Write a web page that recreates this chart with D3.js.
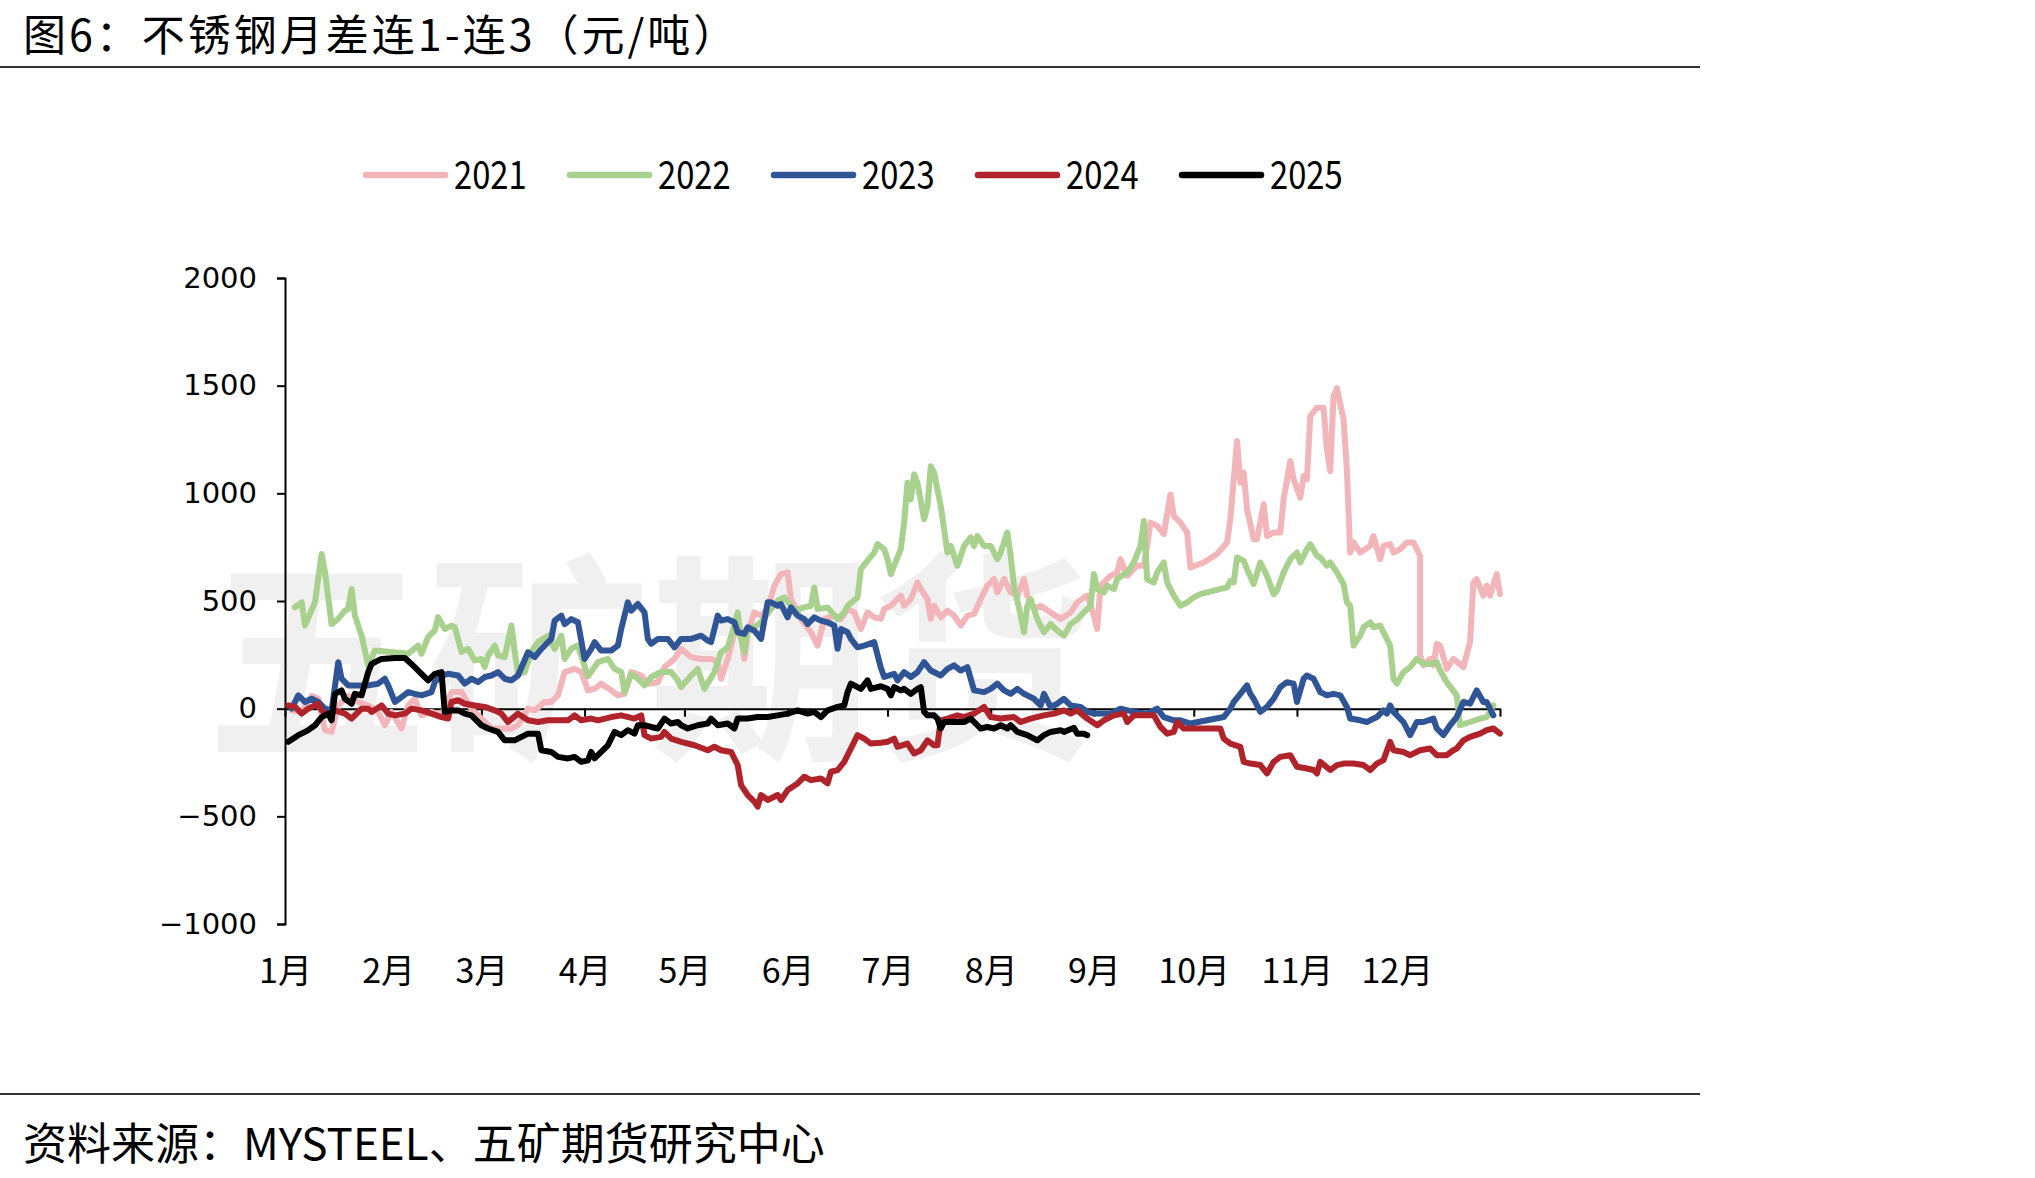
<!DOCTYPE html>
<html>
<head>
<meta charset="utf-8">
<script src="https://cdn.jsdelivr.net/npm/d3@7"></script>
<style>
  body { margin: 0; background: #fff; }
  svg { display: block; }
</style>
</head>
<body>
<svg id="chart"></svg>
<script>

/* DATA */
// each point is [day of year, spread in 元/吨]

const s2021 = [[2,-8],[5,-15],[8,60],[10,46],[12,-100],[14,-108],[16,15],[19,60],[22,31],[25,15],[28,-15],[30,-77],[32,-15],[35,-92],[37,15],[39,46],[41,-31],[44,-15],[47,-31],[50,77],[53,77],[56,0],[59,-46],[62,-92],[65,-92],[68,-92],[70,-77],[73,0],[75,-8],[78,31],[80,31],[82,62],[84,170],[87,185],[89,170],[91,85],[93,92],[95,116],[98,85],[100,62],[102,69],[104,170],[107,154],[109,116],[112,123],[114,193],[117,231],[119,278],[122,239],[125,231],[128,231],[130,216],[131,139],[133,231],[135,355],[137,339],[138,231],[139,355],[141,447],[143,432],[145,463],[147,571],[149,625],[151,633],[152,509],[155,416],[158,355],[160,293],[162,416],[165,432],[167,416],[169,463],[171,447],[173,370],[175,447],[177,424],[179,417],[180,463],[182,478],[183,494],[185,525],[186,478],[188,509],[190,586],[191,555],[193,509],[194,417],[195,478],[197,424],[199,455],[201,432],[203,386],[205,432],[207,440],[209,509],[211,571],[213,602],[214,540],[216,602],[218,540],[220,525],[222,602],[223,525],[225,463],[227,478],[230,447],[233,417],[236,447],[238,494],[241,525],[243,432],[244,370],[245,571],[248,617],[250,633],[251,694],[253,617],[256,664],[258,664],[259,756],[260,864],[262,849],[264,810],[266,995],[267,895],[269,864],[271,818],[272,656],[276,679],[280,718],[283,772],[284,880],[286,1243],[287,1049],[288,1096],[289,926],[291,787],[292,787],[294,949],[295,802],[297,818],[299,818],[300,972],[302,1150],[303,1065],[305,980],[306,1080],[307,1065],[308,1358],[310,1397],[312,1397],[313,1204],[314,1103],[315,1451],[316,1489],[318,1343],[319,1111],[320,725],[321,772],[323,725],[326,756],[327,802],[329,694],[330,756],[332,764],[333,725],[335,741],[337,772],[339,772],[341,710],[341,247],[342,201],[344,231],[345,201],[346,301],[347,293],[349,185],[351,231],[354,193],[356,309],[357,586],[358,602],[360,525],[361,571],[362,525],[364,625],[365,532]];

const s2022 = [[3,471],[5,494],[6,386],[9,494],[11,718],[12,634],[14,393],[16,417],[18,455],[19,463],[20,556],[21,432],[23,339],[25,200],[27,270],[31,264],[37,255],[40,293],[41,255],[43,333],[45,363],[46,425],[48,370],[50,386],[51,378],[53,264],[55,278],[57,224],[59,231],[60,194],[61,247],[63,293],[64,247],[66,240],[68,386],[69,264],[70,162],[72,170],[74,264],[76,309],[79,339],[81,278],[83,339],[84,231],[86,278],[88,293],[91,150],[94,216],[97,231],[99,185],[101,170],[102,77],[104,162],[106,139],[108,108],[110,147],[113,170],[116,170],[118,131],[119,100],[122,154],[124,185],[126,92],[129,170],[131,262],[133,285],[135,386],[136,447],[137,324],[138,262],[139,370],[141,378],[143,401],[146,463],[148,501],[150,517],[152,478],[153,455],[156,470],[158,478],[159,563],[160,463],[163,470],[166,416],[168,447],[169,478],[172,517],[173,648],[175,687],[177,725],[178,764],[180,741],[181,694],[182,625],[183,664],[185,741],[186,864],[187,1049],[188,972],[189,1088],[190,1049],[192,880],[193,941],[194,1126],[195,1096],[197,941],[199,725],[200,756],[202,664],[204,756],[206,795],[207,756],[208,802],[210,756],[212,756],[214,694],[215,725],[217,818],[218,710],[219,571],[221,432],[222,355],[223,478],[224,509],[225,463],[226,416],[228,355],[230,393],[232,362],[234,339],[236,393],[238,416],[240,447],[242,478],[243,625],[244,555],[246,540],[247,571],[249,555],[250,602],[253,633],[255,679],[257,756],[258,872],[259,600],[261,586],[262,633],[264,679],[265,586],[267,525],[269,478],[271,494],[273,517],[275,532],[277,540],[283,563],[284,594],[285,586],[286,702],[288,687],[289,648],[291,579],[293,679],[295,617],[297,532],[298,548],[300,633],[302,694],[304,725],[305,679],[307,741],[308,764],[310,710],[311,702],[313,664],[314,679],[316,633],[318,579],[319,494],[320,478],[321,293],[323,339],[324,378],[326,401],[327,378],[329,386],[332,293],[333,139],[334,116],[336,170],[338,193],[340,231],[342,208],[344,208],[346,216],[347,177],[349,123],[352,62],[353,-77],[356,-62],[359,-46],[361,-39],[362,-15],[363,15]];

const s2023 = [[2,0],[4,62],[6,31],[8,46],[10,31],[12,0],[14,-8],[16,216],[17,139],[19,108],[22,108],[25,108],[28,116],[30,139],[31,108],[33,31],[35,54],[37,77],[39,69],[41,62],[44,77],[45,123],[47,154],[49,162],[52,154],[54,116],[56,139],[58,123],[60,147],[62,154],[64,170],[66,139],[68,131],[70,154],[73,262],[75,239],[77,278],[80,324],[81,409],[83,432],[84,393],[86,416],[88,401],[90,231],[92,278],[93,309],[95,270],[98,270],[100,293],[101,370],[103,494],[104,455],[106,486],[108,447],[109,324],[110,301],[112,324],[115,324],[117,285],[119,324],[122,324],[125,339],[127,316],[128,309],[130,432],[131,409],[133,416],[135,401],[136,355],[138,347],[139,378],[141,362],[143,324],[145,494],[146,494],[148,478],[149,486],[151,424],[152,470],[154,432],[156,416],[157,393],[159,424],[161,409],[163,401],[165,386],[166,278],[167,370],[169,355],[170,324],[172,285],[174,293],[177,309],[179,190],[180,147],[183,162],[184,131],[186,170],[188,147],[190,170],[192,216],[194,177],[197,154],[199,185],[201,201],[203,177],[205,193],[207,85],[210,77],[212,92],[214,116],[216,85],[218,69],[220,92],[222,69],[225,46],[227,15],[228,69],[230,8],[232,23],[234,46],[236,15],[239,8],[241,-15],[243,-23],[245,-23],[248,-23],[251,0],[255,-15],[259,-23],[262,0],[264,-39],[267,-54],[269,-54],[272,-69],[277,-54],[282,-39],[284,0],[285,31],[287,69],[289,108],[290,69],[291,46],[293,-15],[295,8],[297,46],[299,100],[301,123],[303,116],[304,31],[306,139],[307,154],[309,139],[311,77],[313,62],[315,69],[317,62],[319,8],[320,-46],[323,-54],[325,-62],[326,-54],[328,-39],[330,-8],[331,-23],[332,15],[333,-15],[336,-62],[338,-123],[340,-62],[342,-62],[345,-46],[346,-92],[348,-123],[350,-77],[352,-39],[354,31],[356,23],[358,85],[360,31],[361,31],[363,-31]];

const s2024 = [[1,15],[3,8],[5,-23],[7,0],[10,23],[11,-8],[13,-31],[15,-8],[18,-23],[20,-46],[23,0],[25,0],[26,-15],[29,15],[31,-23],[33,-31],[36,-23],[38,0],[41,-8],[44,-23],[47,-39],[49,-46],[50,31],[52,39],[54,23],[57,15],[60,8],[63,-8],[65,-23],[67,-62],[70,-23],[73,-54],[76,-62],[79,-54],[82,-54],[85,-54],[87,-31],[89,-54],[92,-46],[94,-54],[98,-39],[101,-31],[105,-46],[107,-31],[108,-123],[110,-139],[113,-131],[114,-108],[116,-139],[119,-154],[123,-170],[127,-193],[129,-177],[131,-193],[134,-201],[136,-262],[137,-355],[139,-401],[141,-432],[142,-455],[143,-401],[145,-424],[148,-401],[149,-424],[151,-378],[154,-347],[156,-316],[158,-332],[161,-324],[163,-347],[164,-293],[166,-285],[168,-247],[170,-185],[172,-123],[174,-139],[176,-162],[179,-158],[181,-154],[183,-139],[184,-177],[187,-162],[189,-208],[191,-193],[193,-147],[195,-170],[196,-170],[197,-54],[199,-46],[202,-31],[204,-39],[207,-23],[210,8],[212,-39],[215,-46],[219,-39],[221,-62],[224,-46],[228,-31],[231,-23],[234,-8],[236,-23],[238,-8],[241,-46],[244,-77],[246,-54],[249,-31],[252,-23],[253,-62],[255,-31],[258,-31],[261,-31],[263,-85],[265,-116],[267,-108],[268,-62],[270,-92],[273,-92],[276,-92],[281,-92],[282,-139],[284,-162],[287,-177],[288,-247],[290,-255],[293,-262],[295,-301],[297,-247],[299,-224],[302,-216],[304,-270],[307,-278],[309,-285],[310,-301],[311,-247],[314,-285],[316,-262],[318,-255],[321,-255],[324,-262],[326,-285],[328,-255],[330,-239],[332,-154],[333,-193],[336,-201],[338,-216],[341,-193],[344,-185],[346,-216],[349,-216],[351,-193],[352,-185],[354,-147],[356,-131],[359,-116],[361,-100],[363,-92],[365,-116]];

const s2025 = [[1,-154],[4,-123],[6,-108],[7,-100],[9,-77],[11,-39],[13,-23],[14,-54],[15,69],[17,85],[18,46],[20,23],[21,69],[23,62],[25,170],[26,208],[29,231],[33,235],[36,235],[39,193],[41,162],[43,131],[45,162],[47,170],[48,-15],[50,-8],[52,-8],[54,-23],[56,-31],[59,-77],[61,-92],[64,-108],[66,-147],[69,-147],[70,-139],[73,-116],[76,-116],[77,-193],[80,-201],[82,-224],[85,-231],[87,-224],[89,-247],[91,-240],[92,-201],[93,-231],[95,-201],[97,-170],[99,-108],[101,-123],[103,-100],[105,-116],[106,-77],[108,-77],[110,-85],[112,-92],[114,-46],[116,-69],[118,-62],[119,-77],[121,-92],[124,-77],[127,-69],[128,-46],[130,-77],[133,-69],[135,-92],[136,-46],[139,-46],[142,-39],[145,-39],[148,-31],[151,-23],[154,-8],[157,-23],[159,-15],[161,-39],[163,-8],[166,8],[168,15],[169,77],[170,116],[173,92],[175,131],[176,92],[179,104],[181,92],[182,62],[183,100],[185,85],[186,92],[188,69],[190,92],[191,100],[192,-15],[193,-31],[195,-31],[196,-46],[197,-92],[198,-62],[201,-62],[204,-62],[206,-46],[208,-77],[209,-92],[211,-85],[213,-92],[215,-77],[217,-92],[218,-77],[220,-108],[223,-123],[226,-147],[228,-123],[230,-108],[233,-100],[234,-108],[237,-89],[238,-116],[240,-116],[241,-123]];

const seriesNames = ["2021", "2022", "2023", "2024", "2025"];
const yTicks = [-1000, -500, 0, 500, 1000, 1500, 2000];
const titleText = "图6：不锈钢月差连1-连3（元/吨）";
const sourceText = "资料来源：MYSTEEL、五矿期货研究中心";
const watermarkText = "五矿期货";

/* STYLE */
const width = 2035, height = 1178;
const plot = { left: 285, right: 1500, top: 278, bottom: 924 };
const colors = { "2021": "#f2b6ba", "2022": "#a9d18e", "2023": "#2f5597", "2024": "#b0232a", "2025": "#000000" };
const cjkFont = "'Noto Sans CJK SC', sans-serif";
const narrowX = 0.84; // the original uses a condensed face for digits

const seriesData = [s2021, s2022, s2023, s2024, s2025];

/* SVG */
const svg = d3.select("#chart")
    .attr("width", width)
    .attr("height", height)
    .style("background-color", "#fff");

// TITLE + RULES
svg.append("text")
    .attr("x", 23)
    .attr("y", 51)
    .attr("font-family", cjkFont)
    .attr("font-size", 43)
    .attr("letter-spacing", 3)
    .attr("fill", "#000")
    .text(titleText);

svg.append("line")
    .attr("x1", 0).attr("x2", 1700)
    .attr("y1", 67).attr("y2", 67)
    .attr("stroke", "#333").attr("stroke-width", 2);

svg.append("line")
    .attr("x1", 0).attr("x2", 1700)
    .attr("y1", 1094).attr("y2", 1094)
    .attr("stroke", "#333").attr("stroke-width", 2);

svg.append("text")
    .attr("x", 23)
    .attr("y", 1160)
    .attr("font-family", cjkFont)
    .attr("font-size", 44)
    .attr("fill", "#000")
    .text(sourceText);

// WATERMARK
svg.append("text")
    .attr("x", 650)
    .attr("y", 742)
    .attr("text-anchor", "middle")
    .attr("font-family", cjkFont)
    .attr("font-weight", "bold")
    .attr("font-size", 222)
    .attr("fill", "#f0f0f0")
    .text(watermarkText);

/* SCALES */
const yearStart = new Date(2021, 0, 1);
const dayToDate = d => new Date(2021, 0, 1 + d);

const xScale = d3.scaleTime()
    .domain([yearStart, new Date(2022, 0, 1)])
    .range([plot.left, plot.right]);

const yScale = d3.scaleLinear()
    .domain([-1000, 2000])
    .range([plot.bottom, plot.top]);

/* AXES */
const yAxisGroup = svg.append("g")
    .attr("transform", `translate(${plot.left}, 0)`)
    .call(d3.axisLeft(yScale)
        .tickValues(yTicks)
        .tickFormat(d3.format("d"))
        .tickSize(8)
        .tickSizeOuter(8)
        .tickPadding(20));

yAxisGroup.selectAll("text")
    .attr("font-family", "'DejaVu Sans', sans-serif")
    .attr("font-size", 29)
    .attr("fill", "#000");

// axis line with month ticks sits on the zero line
svg.append("g")
    .attr("transform", `translate(0, ${yScale(0)})`)
    .call(d3.axisBottom(xScale)
        .ticks(d3.timeMonth.every(1))
        .tickFormat("")
        .tickSize(8)
        .tickSizeOuter(0));

// month labels below the plot
const monthAxis = svg.append("g")
    .attr("transform", `translate(0, ${plot.bottom + 35})`)
    .call(d3.axisBottom(xScale)
        .ticks(d3.timeMonth.every(1))
        .tickFormat(d => d.getFullYear() === 2021 ? (d.getMonth() + 1) + "月" : "")
        .tickSize(0)
        .tickPadding(0));

monthAxis.select(".domain").remove();
monthAxis.selectAll("text")
    .attr("font-family", cjkFont)
    .attr("font-size", 34)
    .attr("fill", "#000");

svg.selectAll(".domain, .tick line")
    .attr("stroke", "#000")
    .attr("stroke-width", 2);

/* LINES */
const line = d3.line()
    .x(d => xScale(dayToDate(d[0])))
    .y(d => yScale(d[1]));

svg.selectAll("path.series")
    .data(seriesData)
    .join("path")
    .attr("class", "series")
    .attr("d", line)
    .attr("fill", "none")
    .attr("stroke", (d, i) => colors[seriesNames[i]])
    .attr("stroke-width", 6)
    .attr("stroke-linejoin", "round")
    .attr("stroke-linecap", "round");

/* LEGEND */
const legend = svg.selectAll("g.legend-item")
    .data(seriesNames)
    .join("g")
    .attr("class", "legend-item")
    .attr("transform", (d, i) => `translate(${363 + i * 204}, 175)`);

legend.append("line")
    .attr("x1", 3).attr("x2", 82)
    .attr("stroke", d => colors[d])
    .attr("stroke-width", 6.5)
    .attr("stroke-linecap", "round");

legend.append("text")
    .attr("transform", `translate(91, 0) scale(${narrowX}, 1)`)
    .attr("dy", "0.36em")
    .attr("font-family", cjkFont)
    .attr("font-size", 39)
    .attr("fill", "#000")
    .text(d => d);

</script>
</body>
</html>
